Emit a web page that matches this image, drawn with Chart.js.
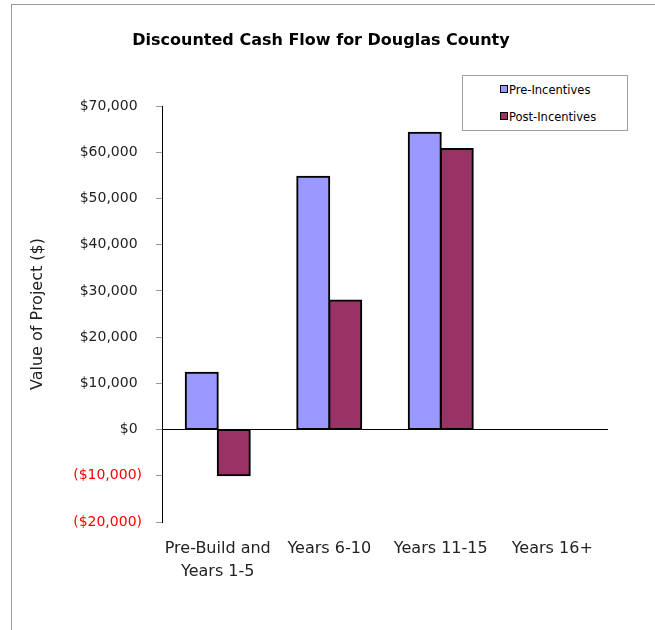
<!DOCTYPE html>
<html>
<head>
<meta charset="utf-8">
<script src="https://cdn.jsdelivr.net/npm/chart.js@4"></script>
<style>
  body { margin: 0; background: #fff; }
  #wrap { position: relative; width: 655px; height: 630px; }
  #frame { position: absolute; left: 11px; top: 4px; width: 650px; height: 630px;
           border-top: 1px solid #999; border-left: 1px solid #999; }
  #title { position: absolute; left: 0; width: 642px; top: 30px; line-height: 20px;
           text-align: center; font: bold 16px "DejaVu Sans"; color: #000; }
  #legend { position: absolute; left: 462px; top: 75px; width: 164px; height: 54px;
            border: 1px solid #a0a0a0; background: #fff; }
  .item { position: absolute; left: 37px; height: 14px; line-height: 14px;
          font: 11.5px "DejaVu Sans"; color: #000; white-space: nowrap; }
  .box { display: inline-block; width: 6px; height: 6px; border: 1px solid #000;
         margin-right: 1px; vertical-align: 1px; }
  canvas { position: absolute; left: 0; top: 0; }
</style>
</head>
<body>
<div id="wrap">
  <div id="frame"></div>
  <canvas id="dcf" width="655" height="630"></canvas>
  <div id="title">Discounted Cash Flow for Douglas County</div>
  <div id="legend"></div>
</div>
<script>
var categories = [["Pre-Build and", "Years 1-5"], "Years 6-10", "Years 11-15", "Years 16+"];
var preIncentives = [12300, 54700, 64200, null];
var postIncentives = [-9900, 27900, 60700, null];
var seriesNames = ["Pre-Incentives", "Post-Incentives"];
var seriesColors = ["#9999ff", "#993366"];

Chart.defaults.font.family = "DejaVu Sans";

function money(v) {
    var s = "$" + Math.abs(v).toLocaleString("en-US");
    // excel style: negatives in brackets, positives keep room for the bracket
    return v < 0 ? "(" + s + ")" : s + " ";
}

var ctx = document.getElementById("dcf").getContext("2d");
var chart = new Chart(ctx, {
    type: "bar",
    data: {
        labels: categories,
        datasets: [
            { label: seriesNames[0], data: preIncentives, backgroundColor: seriesColors[0],
              borderColor: "#000", borderWidth: 2, borderSkipped: false, inflateAmount: 1 },
            { label: seriesNames[1], data: postIncentives, backgroundColor: seriesColors[1],
              borderColor: "#000", borderWidth: 2, borderSkipped: false, inflateAmount: 1 }
        ]
    },
    options: {
        responsive: false,
        animation: false,
        categoryPercentage: 0.574,
        barPercentage: 1,
        layout: { padding: { left: 24, top: 106, right: 47, bottom: 8 } },
        plugins: {
            legend: { display: false },
            title: { display: false },
            tooltip: { enabled: false }
        },
        scales: {
            x: {
                grid: { display: false, drawTicks: false },
                border: { display: false },
                ticks: {
                    color: "#222",
                    padding: 15,
                    maxRotation: 0,
                    autoSkip: false,
                    font: { size: 16, lineHeight: 1.45 }
                },
                afterFit: function (scale) { scale.height = 100; }
            },
            y: {
                min: -20000,
                max: 70000,
                ticks: {
                    stepSize: 10000,
                    padding: 14,
                    font: { size: 14 },
                    color: function (c) { return c.tick && c.tick.value < 0 ? "#ff0000" : "#222"; },
                    callback: function (v) { return money(v); }
                },
                grid: {
                    drawOnChartArea: true,
                    color: function (c) { return c.tick && c.tick.value === 0 ? "#000" : "rgba(0,0,0,0)"; },
                    tickColor: "#999",
                    tickLength: 6
                },
                border: { display: true, color: "#000", width: 1 },
                title: {
                    display: true,
                    text: "Value of Project ($)",
                    color: "#222",
                    font: { size: 16 }
                },
                afterFit: function (scale) { scale.width = 138; }
            }
        }
    }
});

// legend box built from the datasets
var legend = document.getElementById("legend");
chart.data.datasets.forEach(function (ds, i) {
    var item = document.createElement("div");
    item.className = "item";
    item.style.top = (7 + i * 27) + "px";
    var sw = document.createElement("span");
    sw.className = "box";
    sw.style.background = ds.backgroundColor;
    item.appendChild(sw);
    item.appendChild(document.createTextNode(ds.label));
    legend.appendChild(item);
});
</script>
</body>
</html>
